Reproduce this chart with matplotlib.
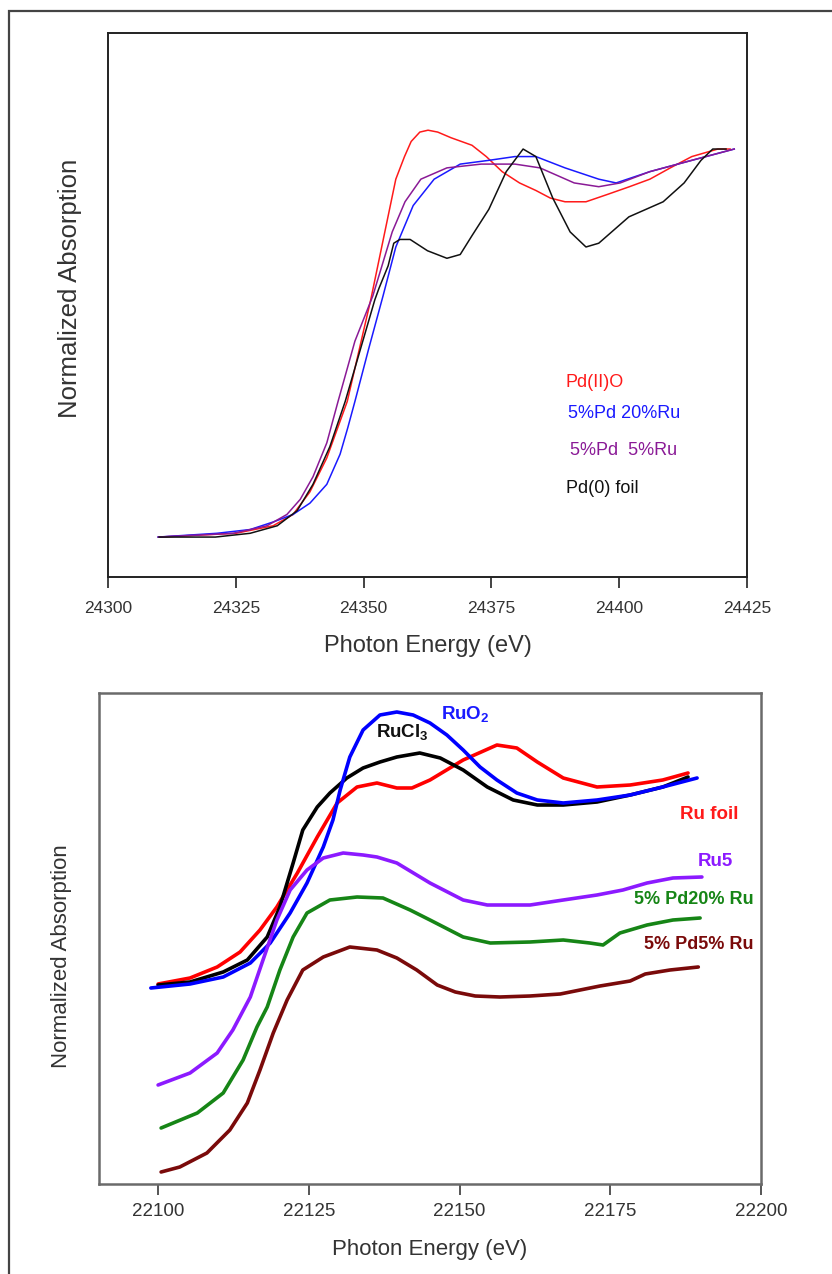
import matplotlib
matplotlib.use("Agg")
import matplotlib.pyplot as plt
from matplotlib.patches import Rectangle

plt.rcParams['font.family'] = ['Liberation Sans', 'DejaVu Sans']

# ---------------- top panel (Pd K-edge) ----------------
pdo_E = [24310, 24325, 24332.3, 24336.2, 24339.5, 24342.8, 24346.8, 24351.4, 24354.0, 24356.3,
         24358.0, 24359.3, 24361.0, 24362.6, 24364.5, 24367.1, 24371.2, 24374.0, 24377.1, 24380.5,
         24383.7, 24386.5, 24389.4, 24393.5, 24397.8, 24402.0, 24406, 24410.0, 24414.2, 24419.3,
         24421.7]
pdo_mu = [0.00, 0.01, 0.03, 0.06, 0.12, 0.21, 0.36, 0.63, 0.80, 0.95,
          1.01, 1.05, 1.075, 1.08, 1.075, 1.06, 1.04, 1.01, 0.97, 0.94,
          0.92, 0.90, 0.89, 0.89, 0.91, 0.93, 0.95, 0.98, 1.01, 1.03,
          1.03]

pd20_E = [24309.8, 24321.3, 24327.8, 24332.3, 24336.2, 24339.5, 24342.8, 24345.4, 24346.9, 24348.3,
          24351.0, 24353.8, 24356.3, 24359.7, 24363.8, 24368.9, 24374.5, 24379.6, 24383.7, 24389.4,
          24396.0, 24399.4, 24406.0, 24414.2, 24422.5]
pd20_mu = [0.00, 0.01, 0.02, 0.04, 0.06, 0.09, 0.14, 0.22, 0.29, 0.36,
           0.50, 0.64, 0.77, 0.88, 0.95, 0.99, 1.00, 1.01, 1.01, 0.98,
           0.95, 0.94, 0.97, 1.00, 1.03]

pd5_E = [24309.8, 24324.5, 24331.1, 24335.0, 24337.6, 24340.1, 24342.8, 24345.0, 24348.3, 24351.8,
         24355.6, 24358.1, 24361.2, 24366.3, 24373.0, 24379.6, 24384.5, 24391.2, 24396.0, 24400.2,
         24406.0, 24414.2, 24422.5]
pd5_mu = [0.00, 0.01, 0.03, 0.06, 0.10, 0.16, 0.25, 0.36, 0.52, 0.64,
          0.81, 0.89, 0.95, 0.98, 0.99, 0.99, 0.98, 0.94, 0.93, 0.94,
          0.97, 1.00, 1.03]

pd0_E = [24310, 24321, 24327.8, 24333.1, 24337.0, 24340.1, 24343.4, 24346.4, 24352.2, 24353.0,
         24354.8, 24355.9, 24357.1, 24359.1, 24362.5, 24366.3, 24368.9, 24371.2, 24374.5, 24377.9,
         24381.2, 24383.7, 24387.0, 24390.4, 24393.5, 24396.0, 24401.9, 24408.6, 24412.7, 24416.0,
         24418.3, 24420.9]
pd0_mu = [0.00, 0.00, 0.01, 0.03, 0.07, 0.14, 0.24, 0.36, 0.63, 0.66,
          0.72, 0.78, 0.79, 0.79, 0.76, 0.74, 0.75, 0.80, 0.87, 0.97,
          1.03, 1.01, 0.90, 0.81, 0.77, 0.78, 0.85, 0.89, 0.94, 1.00,
          1.03, 1.03]

top_xticks = [24300, 24325, 24350, 24375, 24400, 24425]
top_labels = ['Pd(II)O', '5%Pd 20%Ru', '5%Pd  5%Ru', 'Pd(0) foil']

# ---------------- bottom panel (Ru K-edge) ----------------
rufoil_E = [22100.0, 22105.3, 22109.8, 22113.6, 22116.9, 22119.7, 22123.1, 22126.4, 22129.7, 22133.0,
            22136.3, 22139.6, 22142.1, 22145.1, 22150.6, 22156.2, 22159.5, 22162.9, 22167.2, 22172.8,
            22178.3, 22183.7, 22187.9]
rufoil_mu = [0.005, 0.035, 0.09, 0.165, 0.275, 0.39, 0.56, 0.74, 0.91, 0.99,
             1.01, 0.985, 0.985, 1.025, 1.125, 1.20, 1.185, 1.115, 1.035, 0.99,
             1.00, 1.025, 1.06]

rucl3_E = [22100.0, 22105.3, 22110.8, 22114.8, 22118.1, 22120.2, 22122.4, 22124.0, 22126.4, 22128.5,
           22131.3, 22134.0, 22136.8, 22139.6, 22143.4, 22146.8, 22150.6, 22154.6, 22158.9, 22162.9,
           22167.2, 22172.8, 22178.3, 22183.7, 22187.9]
rucl3_mu = [0.00, 0.015, 0.065, 0.125, 0.24, 0.39, 0.61, 0.775, 0.89, 0.96,
            1.035, 1.085, 1.115, 1.14, 1.16, 1.135, 1.075, 0.99, 0.925, 0.90,
            0.90, 0.915, 0.95, 0.99, 1.04]

ruo2_E = [22098.8, 22105.3, 22110.8, 22115.3, 22118.6, 22121.9, 22124.7, 22127.4, 22129.0, 22130.2,
          22131.8, 22134.0, 22136.8, 22139.6, 22142.3, 22145.1, 22147.9, 22150.6, 22153.4, 22156.2,
          22159.5, 22162.9, 22167.2, 22172.8, 22178.3, 22183.7, 22189.4]
ruo2_mu = [-0.015, 0.005, 0.04, 0.11, 0.21, 0.36, 0.51, 0.69, 0.825, 0.975,
           1.14, 1.275, 1.35, 1.365, 1.35, 1.31, 1.25, 1.175, 1.09, 1.025,
           0.96, 0.925, 0.91, 0.925, 0.95, 0.99, 1.035]

ru5_E = [22100.0, 22105.3, 22109.8, 22112.4, 22115.3, 22117.4, 22119.7, 22121.9, 22124.7, 22127.4,
         22130.7, 22134.0, 22136.3, 22139.6, 22145.1, 22150.6, 22154.6, 22161.7, 22167.2, 22172.8,
         22177.1, 22181.1, 22185.4, 22190.2]
ru5_mu = [-0.50, -0.44, -0.34, -0.225, -0.06, 0.125, 0.325, 0.475, 0.575, 0.635,
          0.66, 0.65, 0.64, 0.61, 0.51, 0.425, 0.40, 0.40, 0.425, 0.45,
          0.475, 0.51, 0.535, 0.54]

pd20ru_E = [22100.5, 22106.5, 22110.8, 22114.1, 22116.4, 22118.1, 22120.2, 22122.4, 22124.7, 22128.5,
            22133.0, 22137.3, 22141.8, 22145.1, 22150.6, 22155.1, 22161.7, 22167.2, 22171.6, 22173.8,
            22176.6, 22181.1, 22185.4, 22189.9]
pd20ru_mu = [-0.715, -0.64, -0.54, -0.375, -0.21, -0.11, 0.075, 0.24, 0.36, 0.425,
             0.44, 0.435, 0.375, 0.325, 0.24, 0.21, 0.215, 0.225, 0.21, 0.20,
             0.26, 0.30, 0.325, 0.335]

pd5ru_E = [22100.5, 22103.6, 22108.1, 22111.9, 22114.8, 22116.9, 22119.1, 22121.4, 22124.0, 22127.4,
           22131.8, 22136.3, 22139.6, 22142.9, 22146.3, 22149.3, 22152.6, 22156.7, 22161.7, 22166.7,
           22173.3, 22178.3, 22180.8, 22184.9, 22189.6]
pd5ru_mu = [-0.935, -0.91, -0.84, -0.725, -0.59, -0.425, -0.24, -0.075, 0.075, 0.14,
            0.19, 0.175, 0.135, 0.075, 0.00, -0.035, -0.055, -0.06, -0.055, -0.045,
            -0.005, 0.02, 0.055, 0.075, 0.09]

bot_xticks = [22100, 22125, 22150, 22175, 22200]

W, H = 832, 1274
fig = plt.figure(figsize=(W / 100, H / 100), dpi=100)

def fx(px):
    return px / W

def fy(py):
    return 1 - py / H

# outer frame (only left/top visible)
fig.patches.append(Rectangle((fx(9), fy(1300)), fx(900), fy(11) - fy(1300),
                             transform=fig.transFigure, fill=False,
                             edgecolor='#444444', linewidth=1.6))

# ---- top axes ----
ax1 = fig.add_axes([fx(108), fy(577), fx(747) - fx(108), fy(33) - fy(577)])
ax1.plot(pdo_E, pdo_mu, color='#ff1a1a', lw=1.1)
ax1.plot(pd20_E, pd20_mu, color='#1a1aff', lw=1.1)
ax1.plot(pd5_E, pd5_mu, color='#8a1a96', lw=1.1)
ax1.plot(pd0_E, pd0_mu, color='#111111', lw=1.1)
ax1.set_xlim(24300, 24425)
ax1.set_ylim(-0.106, 1.338)
ax1.set_xticks(top_xticks)
ax1.set_yticks([])
ax1.tick_params(axis='x', direction='out', length=8, width=1.2, pad=9,
                labelsize=12.5, labelcolor='#333333', color='#222222')
for s in ax1.spines.values():
    s.set_color('#222222')
    s.set_linewidth(1.4)
top_colors = ['#ff1a1a', '#1a1aff', '#8a1a96', '#111111']
top_lx = [24389.4, 24390.0, 24390.4, 24389.6]
top_ly = [0.41, 0.327, 0.229, 0.13]
for t, c, x, y in zip(top_labels, top_colors, top_lx, top_ly):
    ax1.text(x, y, t, color=c, fontsize=13, ha='left', va='center')
fig.text(fx(428), fy(646), 'Photon Energy (eV)', ha='center', va='center',
         fontsize=17, color='#333333')
fig.text(fx(70), fy(288), 'Normalized Absorption', ha='center', va='center',
         rotation=90, fontsize=18.5, color='#333333')

# ---- bottom axes ----
ax2 = fig.add_axes([fx(99), fy(1184), fx(761) - fx(99), fy(693) - fy(1184)])
ax2.plot(rufoil_E, rufoil_mu, color='#ff0000', lw=2.6, solid_capstyle='round')
ax2.plot(rucl3_E, rucl3_mu, color='#000000', lw=2.6, solid_capstyle='round')
ax2.plot(ruo2_E, ruo2_mu, color='#0000ff', lw=2.6, solid_capstyle='round')
ax2.plot(ru5_E, ru5_mu, color='#8c1aff', lw=2.6, solid_capstyle='round')
ax2.plot(pd20ru_E, pd20ru_mu, color='#168516', lw=2.6, solid_capstyle='round')
ax2.plot(pd5ru_E, pd5ru_mu, color='#7a0a0a', lw=2.6, solid_capstyle='round')
ax2.set_xlim(22090.2, 22200)
ax2.set_ylim(-0.995, 1.46)
ax2.set_xticks(bot_xticks)
ax2.set_yticks([])
ax2.tick_params(axis='x', direction='out', length=8, width=1.4, pad=6,
                labelsize=13.5, labelcolor='#333333', color='#555555')
for s in ax2.spines.values():
    s.set_color('#6a6a6a')
    s.set_linewidth(1.8)

ax2.text(22136.2, 1.26, 'RuCl$_\\mathregular{3}$', color='#111111', fontsize=13.5,
         fontweight='bold', ha='left', va='center')
ax2.text(22147.0, 1.35, 'RuO$_\\mathregular{2}$', color='#1a1aff', fontsize=13.5,
         fontweight='bold', ha='left', va='center')
ax2.text(22191.4, 0.85, 'Ru foil', color='#ff1a1a', fontsize=13.5,
         fontweight='bold', ha='center', va='center')
ax2.text(22192.5, 0.615, 'Ru5', color='#8c1aff', fontsize=13.5,
         fontweight='bold', ha='center', va='center')
ax2.text(22188.9, 0.425, '5% Pd20% Ru', color='#168516', fontsize=13,
         fontweight='bold', ha='center', va='center')
ax2.text(22189.6, 0.20, '5% Pd5% Ru', color='#7a0a0a', fontsize=13,
         fontweight='bold', ha='center', va='center')

fig.text(fx(430), fy(1250), 'Photon Energy (eV)', ha='center', va='center',
         fontsize=16, color='#333333')
fig.text(fx(62), fy(956), 'Normalized Absorption', ha='center', va='center',
         rotation=90, fontsize=16, color='#333333')

fig.savefig('out.png', dpi=100)
